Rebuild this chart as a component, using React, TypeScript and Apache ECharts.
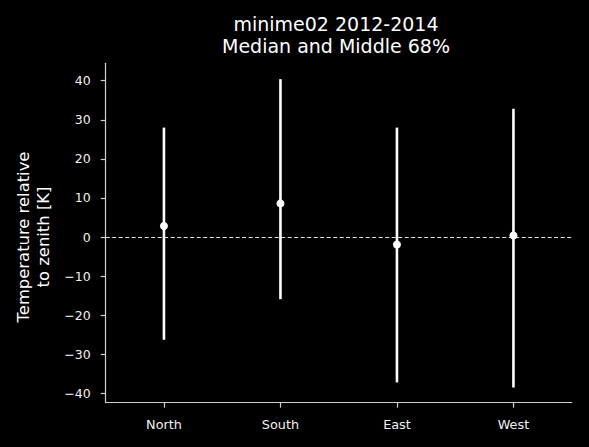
import React, { useEffect, useRef } from "react";
import * as echarts from "echarts";

const categories = ["North", "South", "East", "West"];
const lowValues = [-26.3, -15.9, -37.2, -38.5];
const medianValues = [2.8, 8.6, -1.9, 0.4];
const highValues = [28.0, 40.4, 28.0, 32.8];
const yTicks = [-40, -30, -20, -10, 0, 10, 20, 30, 40];
const titleLines = ["minime02 2012-2014", "Median and Middle 68%"];
const yName = "Temperature relative\nto zenith [K]";

const FONT = "DejaVu Sans";

export default function App() {
  const ref = useRef<HTMLDivElement>(null);
  useEffect(() => {
    if (!ref.current) return;
    const chart = echarts.init(ref.current, null, { renderer: "svg" });
    const barData = categories.map((_, i) => [i, lowValues[i], highValues[i]]);
    chart.setOption({
      animation: false,
      backgroundColor: "#000000",
      textStyle: { fontFamily: FONT },
      grid: { left: 105.7, right: 17.3, top: 63.3, bottom: 44.3 },
      graphic: [
        {
          type: "text",
          x: 336,
          y: 23.5,
          style: {
            text: titleLines[0],
            fill: "#ffffff",
            font: `19px '${FONT}'`,
            textAlign: "center",
            textVerticalAlign: "middle",
          },
        },
        {
          type: "text",
          x: 336,
          y: 45.5,
          style: {
            text: titleLines[1],
            fill: "#ffffff",
            font: `19px '${FONT}'`,
            textAlign: "center",
            textVerticalAlign: "middle",
          },
        },
        {
          type: "text",
          x: 33,
          y: 237,
          rotation: Math.PI / 2,
          style: {
            text: yName,
            fill: "#ffffff",
            font: `16.4px '${FONT}'`,
            lineHeight: 20,
            textAlign: "center",
            textVerticalAlign: "middle",
          },
        },
      ],
      xAxis: {
        type: "category",
        data: categories,
        boundaryGap: true,
        axisLine: { show: true, onZero: false, lineStyle: { color: "#d0d0d0", width: 1.2 } },
        axisTick: { show: true, alignWithLabel: true, length: 5, lineStyle: { color: "#d0d0d0", width: 1.2 } },
        axisLabel: { color: "#f0f0f0", fontSize: 12.8, fontFamily: FONT, margin: 15 },
        splitLine: { show: false },
      },
      yAxis: {
        type: "value",
        min: -42.4,
        max: 44.45,
        axisLine: { show: true, onZero: false, lineStyle: { color: "#d0d0d0", width: 1.2 } },
        axisTick: { show: true, length: 5, customValues: yTicks, lineStyle: { color: "#d0d0d0", width: 1.2 } },
        axisLabel: {
          color: "#f0f0f0",
          fontSize: 12.5,
          fontFamily: FONT,
          margin: 15,
          customValues: yTicks,
          formatter: (v: number) => (v < 0 ? "\u2212" + Math.abs(v) : String(v)),
        },
        splitLine: { show: false },
      },
      series: [
        {
          type: "custom",
          z: 3,
          data: barData,
          encode: { x: 0, y: [1, 2] },
          renderItem: (params: any, api: any) => {
            const p1 = api.coord([api.value(0), api.value(1)]);
            const p2 = api.coord([api.value(0), api.value(2)]);
            return {
              type: "line",
              shape: { x1: p1[0], y1: p1[1], x2: p2[0], y2: p2[1] },
              style: { stroke: "#ffffff", lineWidth: 2.6 },
            };
          },
        },
        {
          type: "scatter",
          z: 4,
          data: medianValues.map((v, i) => [i, v]),
          symbol: "circle",
          symbolSize: 8,
          itemStyle: { color: "#ffffff", opacity: 1 },
          markLine: {
            silent: true,
            symbol: "none",
            z: 2,
            label: { show: false },
            lineStyle: { color: "#ffffff", width: 0.9, type: [4, 2.5] },
            data: [{ yAxis: 0 }],
          },
        },
      ],
    });
    return () => chart.dispose();
  }, []);
  return (
    <div
      ref={ref}
      style={{ position: "fixed", left: 0, top: 0, width: 589, height: 447, background: "#000" }}
    />
  );
}
